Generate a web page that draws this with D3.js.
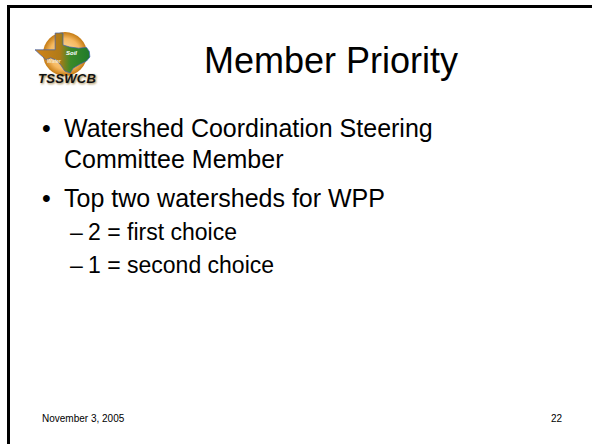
<!DOCTYPE html>
<html>
<head>
<meta charset="utf-8">
<script src="https://cdn.jsdelivr.net/npm/d3@7"></script>
<style>
  body { margin: 0; background: #fff; }
  svg { display: block; }
</style>
</head>
<body>
<div class="slide"></div>
<script>
// slide content
var title = "Member Priority";
var bullets = [
  ["Watershed Coordination Steering", "Committee Member"],
  ["Top two watersheds for WPP"]
];
var subBullets = ["2 = first choice", "1 = second choice"];
var footerDate = "November 3, 2005";
var pageNumber = "22";

// rough Texas outline for the logo, unit square
var texas = [[0.36,0],[0.5,0],[0.5,0.3],[0.62,0.35],[0.78,0.38],[0.92,0.36],[0.97,0.46],
  [0.98,0.6],[0.92,0.7],[0.8,0.78],[0.68,0.88],[0.63,1],[0.53,0.95],[0.46,0.8],
  [0.38,0.68],[0.28,0.62],[0.2,0.67],[0.1,0.55],[0,0.42],[0.36,0.42]];

var width = 592, height = 444;
var font = "Arial, 'Liberation Sans', sans-serif";

var svg = d3.select(".slide").append("svg")
  .attr("width", width)
  .attr("height", height);

// slide frame (only top/left show in the picture)
svg.append("rect")
  .attr("x", 8.5).attr("y", 6.5)
  .attr("width", width + 20).attr("height", height + 20)
  .attr("fill", "none")
  .attr("stroke", "#000")
  .attr("stroke-width", 3);

// logo
var defs = svg.append("defs");
var rg = defs.append("radialGradient").attr("id", "sun");
rg.append("stop").attr("offset", "0%").attr("stop-color", "#fde0b0");
rg.append("stop").attr("offset", "70%").attr("stop-color", "#f6b960");
rg.append("stop").attr("offset", "100%").attr("stop-color", "#c47a12");
var lg = defs.append("linearGradient").attr("id", "land");
lg.append("stop").attr("offset", "0%").attr("stop-color", "#d28418");
lg.append("stop").attr("offset", "45%").attr("stop-color", "#b07a18");
lg.append("stop").attr("offset", "65%").attr("stop-color", "#3a8a28");
lg.append("stop").attr("offset", "100%").attr("stop-color", "#1f7a2a");
defs.append("filter").attr("id", "blur")
  .append("feGaussianBlur").attr("stdDeviation", 0.9);

var logo = svg.append("g");
logo.append("circle")
  .attr("cx", 65).attr("cy", 54).attr("r", 22)
  .attr("fill", "url(#sun)");

var tx = d3.scaleLinear().domain([0, 1]).range([35, 91]),
    ty = d3.scaleLinear().domain([0, 1]).range([33, 73]);
logo.append("path")
  .attr("d", d3.line().x(function(d) { return tx(d[0]); }).y(function(d) { return ty(d[1]); })(texas) + "Z")
  .attr("fill", "url(#land)")
  .attr("stroke", "#3b5fb0")
  .attr("stroke-width", 0.7);

logo.append("text").attr("x", 66).attr("y", 55)
  .attr("font-family", font).attr("font-size", 6).attr("font-weight", "bold")
  .attr("font-style", "italic").attr("fill", "#fff").text("Soil");
logo.append("text").attr("x", 47).attr("y", 63)
  .attr("font-family", font).attr("font-size", 5).attr("font-weight", "bold")
  .attr("font-style", "italic").attr("fill", "#f4e6c8").text("Water");

logo.append("text").attr("x", 39).attr("y", 84)
  .attr("font-family", font).attr("font-size", 13).attr("font-weight", "bold")
  .attr("font-style", "italic").attr("fill", "#a08040").attr("filter", "url(#blur)")
  .attr("letter-spacing", 0.3)
  .text("TSSWCB");
logo.append("text").attr("x", 38).attr("y", 83)
  .attr("font-family", font).attr("font-size", 13).attr("font-weight", "bold")
  .attr("font-style", "italic").attr("fill", "#111")
  .attr("letter-spacing", 0.3)
  .text("TSSWCB");

// title
svg.append("text")
  .attr("x", 331).attr("y", 73)
  .attr("text-anchor", "middle")
  .attr("font-family", font).attr("font-size", 36)
  .attr("fill", "#000")
  .text(title);

// bullets
var y = 137;
bullets.forEach(function(lines) {
  svg.append("text").attr("x", 42).attr("y", y)
    .attr("font-family", font).attr("font-size", 25).text("\u2022");
  lines.forEach(function(line, i) {
    svg.append("text").attr("x", 64).attr("y", y + i * 31)
      .attr("font-family", font).attr("font-size", 25).text(line);
  });
  y += lines.length * 31 + 8;
});

y = 240;
subBullets.forEach(function(line) {
  svg.append("text").attr("x", 70).attr("y", y)
    .attr("font-family", font).attr("font-size", 23).text("\u2013");
  svg.append("text").attr("x", 88).attr("y", y)
    .attr("font-family", font).attr("font-size", 23).text(line);
  y += 33;
});

// footer
svg.append("text").attr("x", 42).attr("y", 422)
  .attr("font-family", font).attr("font-size", 10).text(footerDate);
svg.append("text").attr("x", 562).attr("y", 422)
  .attr("text-anchor", "end")
  .attr("font-family", font).attr("font-size", 10).text(pageNumber);
</script>
</body>
</html>
